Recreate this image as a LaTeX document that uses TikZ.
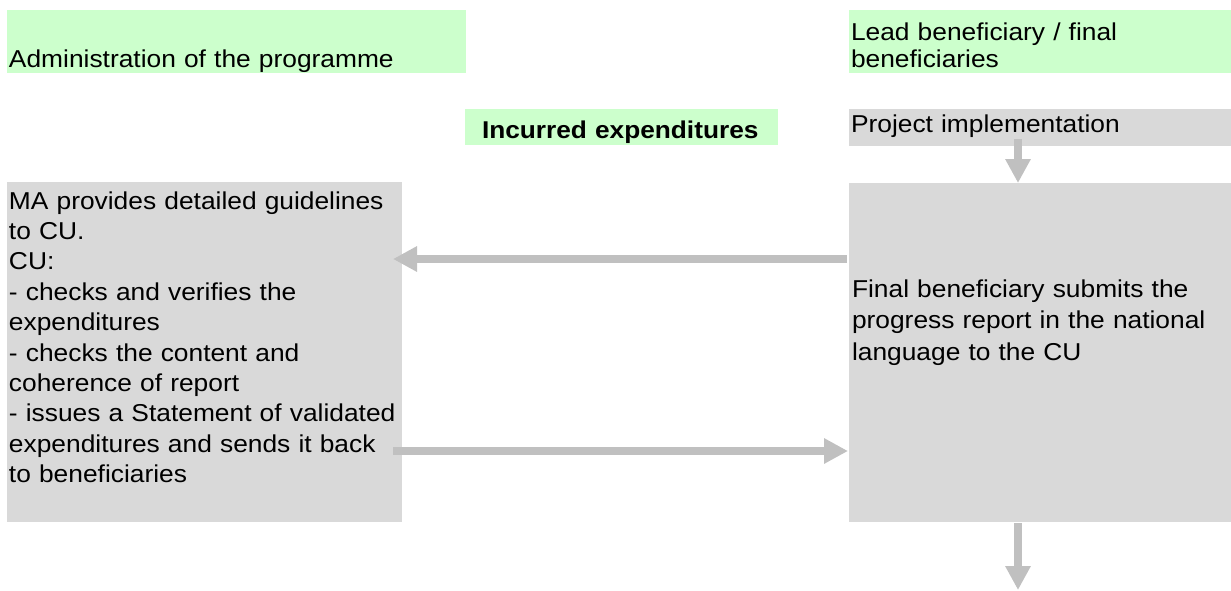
\documentclass[tikz,border=0pt]{standalone}
\usepackage{fontspec}
\setmainfont[FakeStretch=1.08]{Liberation Sans}
\usetikzlibrary{arrows.meta,calc}
\definecolor{lgreen}{HTML}{CCFFCC}
\definecolor{lgray}{HTML}{D9D9D9}
\definecolor{agray}{HTML}{C0C0C0}
\begin{document}
\begin{tikzpicture}[x=1pt,y=-1pt,
  box/.style={inner sep=0pt,outer sep=0pt,anchor=north west},
  gbox/.style={box,fill=lgreen},
  ybox/.style={box,fill=lgray},
  txt/.style={inner sep=0pt,outer sep=0pt,anchor=base west,align=left,text width=420pt,font=\fontsize{24.4}{30.4}\selectfont},
  arr/.style={draw=agray,line width=8pt,-{Triangle[length=24pt,width=24pt]}}]
\useasboundingbox[fill=white] (0,0) rectangle (1231,590);
% boxes
\node[gbox,minimum width=459pt,minimum height=63pt] (adm) at (7,10) {};
\node[gbox,minimum width=382pt,minimum height=63pt] (lead) at (849,10) {};
\node[gbox,minimum width=313pt,minimum height=36pt] (inc) at (465,109) {};
\node[ybox,minimum width=382pt,minimum height=37pt] (proj) at (849,109) {};
\node[ybox,minimum width=395pt,minimum height=340pt] (left) at (7,182) {};
\node[ybox,minimum width=382pt,minimum height=339pt] (right) at (849,183) {};
% arrows
\draw[arr] ($(proj.south west)+(169,-7)$) -- ($(right.north west)+(169,0)$);
\draw[arr] ($(right.north west)+(-2,76)$) -- ($(left.north east)+(-9,77)$);
\draw[arr] ($(left.north east)+(-9,269)$) -- ($(right.north west)+(-1,268)$);
\coordinate (end) at ($(right.south west)+(169,68)$);
\draw[arr] ($(right.south west)+(169,1)$) -- (end);
% texts
\node[txt] (admt) at ($(adm.north west)+(2,57)$) {Administration of the programme};
\node[txt,font=\fontsize{24.4}{27}\selectfont] (leadt) at ($(lead.north west)+(2,30)$) {Lead beneficiary / final\\beneficiaries};
\node[txt,font=\fontsize{24.3}{28}\selectfont\bfseries] (inct) at ($(inc.north west)+(17,29)$) {Incurred expenditures};
\node[txt] (projt) at ($(proj.north west)+(2,23)$) {Project implementation};
\node[txt] (leftt) at ($(left.north west)+(2,27)$) {MA provides detailed guidelines\\to CU.\\CU:\\- checks and verifies the\\expenditures\\- checks the content and\\coherence of report\\- issues a Statement of validated\\expenditures and sends it back\\to beneficiaries};
\node[txt,font=\fontsize{24.4}{31.5}\selectfont] (rightt) at ($(right.north west)+(3,114)$) {Final beneficiary submits the\\progress report in the national\\language to the CU};
\end{tikzpicture}
\end{document}
